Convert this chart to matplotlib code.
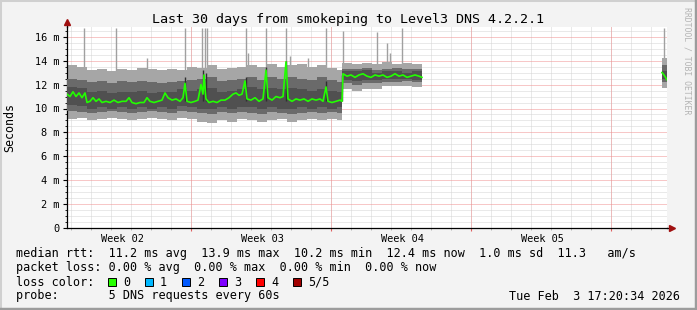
import numpy as np
import matplotlib.pyplot as plt
from matplotlib.patches import Rectangle
from matplotlib.lines import Line2D

W, H = 697, 310
MONO = 'DejaVu Sans Mono'

title = "Last 30 days from smokeping to Level3 DNS 4.2.2.1"

# median rtt (ms), x in days since the start of the 30 day window
median_days = [0.0, 0.15, 0.3, 0.45, 0.6, 0.75, 0.9, 1.0, 1.15, 1.3, 1.45, 1.6, 1.75, 1.95,
               2.15, 2.35, 2.55, 2.75, 2.95, 3.1, 3.25, 3.45, 3.65, 3.85, 4.0, 4.15, 4.35,
               4.55, 4.75, 4.9, 5.05, 5.25, 5.45, 5.65, 5.8, 5.9, 6.0, 6.2, 6.4, 6.55, 6.7,
               6.8, 6.85, 6.95, 7.1, 7.3, 7.5, 7.7, 7.9, 8.1, 8.3, 8.45, 8.6, 8.75, 8.9, 9.0,
               9.2, 9.4, 9.6, 9.8, 9.95, 10.05, 10.25, 10.45, 10.65, 10.8, 10.95, 11.05,
               11.25, 11.45, 11.65, 11.85, 12.05, 12.25, 12.45, 12.65, 12.8, 12.95, 13.05,
               13.25, 13.45, 13.65, 13.75, 13.8, 14.0, 14.2, 14.4, 14.6, 14.8, 15.0, 15.2,
               15.4, 15.6, 15.8, 16.0, 16.2, 16.4, 16.6, 16.8, 17.0, 17.2, 17.4, 17.6, 17.75,
               17.8, 29.75, 29.85, 30.0]
median_ms = [11.2, 11.0, 11.4, 11.0, 11.3, 10.9, 11.3, 10.5, 10.6, 10.9, 10.6, 10.8, 10.5, 10.6,
             10.5, 10.7, 10.5, 10.6, 10.6, 10.9, 10.5, 10.4, 10.5, 10.5, 10.9, 10.6, 10.5,
             10.6, 10.7, 11.3, 10.9, 10.7, 10.8, 10.6, 10.9, 12.1, 10.6, 10.5, 10.6, 10.7, 12.0,
             11.2, 12.8, 10.8, 10.5, 10.6, 10.5, 10.7, 10.7, 10.9, 11.2, 11.3, 11.1, 11.2, 12.3,
             10.8, 10.7, 10.9, 10.6, 10.8, 13.2, 10.9, 10.7, 11.0, 10.9, 11.0, 13.9, 10.8,
             10.6, 10.8, 10.7, 10.8, 10.6, 10.8, 10.7, 10.8, 10.6, 11.8, 10.6,
             10.5, 10.6, 10.7, 10.6, 12.9, 12.7, 12.8, 12.6, 12.8, 12.9, 12.7, 12.6,
             12.8, 12.7, 12.8, 12.6, 12.7, 12.9, 12.7, 12.8, 12.6, 12.7, 12.8, 12.7, 12.6,
             np.nan, 13.0, 12.8, 12.4]

# smoke bands (ms), one value per bin starting at band_days
band_days = [0.0, 0.5, 1.0, 1.5, 2.0, 2.5, 3.0, 3.5, 4.0, 4.5, 5.0, 5.5, 6.0, 6.5, 7.0,
             7.5, 8.0, 8.5, 9.0, 9.5, 10.0, 10.5, 11.0, 11.5, 12.0, 12.5, 13.0, 13.5,
             13.75, 14.25, 14.75, 15.25, 15.75, 16.25, 16.75, 17.25, 17.75, 29.75]
light_hi = [13.6, 13.5, 13.2, 13.3, 13.1, 13.3, 13.2, 13.4, 13.3, 13.2, 13.3, 13.2, 13.5, 13.4,
            13.6, 13.3, 13.4, 13.5, 13.6, 13.5, 13.7, 13.5, 13.6, 13.7, 13.5, 13.6, 13.4, 13.2,
            13.8, 13.7, 13.8, 13.7, 13.9, 13.7, 13.8, 13.7, np.nan, 14.2]
light_lo = [9.1, 9.2, 9.0, 9.1, 9.2, 9.1, 9.0, 9.1, 9.2, 9.1, 9.0, 9.2, 9.1, 8.9, 8.8,
            9.0, 8.9, 9.1, 9.0, 8.9, 9.0, 9.1, 8.9, 9.0, 9.1, 9.0, 9.1, 9.0,
            11.6, 11.5, 11.6, 11.6, 11.9, 11.9, 11.9, 11.8, np.nan, 11.7]
mid_hi = [12.5, 12.4, 12.2, 12.3, 12.1, 12.3, 12.2, 12.3, 12.2, 12.1, 12.2, 12.3, 12.4, 12.5,
          12.6, 12.3, 12.4, 12.5, 12.6, 12.4, 12.6, 12.5, 12.6, 12.5, 12.4, 12.6, 12.4, 12.2,
          13.3, 13.3, 13.4, 13.2, 13.3, 13.4, 13.3, 13.3, np.nan, 13.6]
mid_lo = [9.8, 9.7, 9.6, 9.7, 9.8, 9.7, 9.6, 9.7, 9.8, 9.7, 9.6, 9.8, 9.7, 9.6, 9.5,
          9.7, 9.6, 9.7, 9.6, 9.5, 9.7, 9.6, 9.5, 9.6, 9.7, 9.6, 9.7, 9.6,
          12.1, 12.0, 12.1, 12.1, 12.2, 12.2, 12.3, 12.2, np.nan, 12.2]
dark_hi = [11.8, 11.7, 11.4, 11.5, 11.3, 11.4, 11.4, 11.5, 11.3, 11.4, 11.4, 11.6, 11.5, 11.6,
           11.7, 11.4, 11.5, 11.6, 11.8, 11.6, 11.7, 11.6, 11.7, 11.6, 11.5, 11.6, 11.5, 11.4,
           13.1, 13.1, 13.2, 13.0, 13.1, 13.1, 13.0, 13.1, np.nan, 13.1]
dark_lo = [10.3, 10.2, 10.0, 10.1, 10.0, 10.1, 10.0, 10.1, 10.0, 10.1, 10.0, 10.2, 10.1, 10.0,
           10.0, 10.1, 10.0, 10.1, 10.1, 10.0, 10.1, 10.0, 10.0, 10.1, 10.0, 10.1, 10.0, 10.1,
           12.4, 12.3, 12.4, 12.4, 12.5, 12.5, 12.5, 12.4, np.nan, 12.5]

# single slow probes sticking out of the smoke
spike_days = [0.85, 2.45, 4.0, 5.9, 6.75, 6.9, 7.0, 8.95, 9.05, 9.95, 10.95, 11.15, 12.05,
              12.95, 13.8, 15.5, 16.0, 16.15, 16.75, 29.85]
spike_tops = [16.7, 16.7, 14.2, 16.7, 16.7, 16.7, 16.7, 16.7, 14.6, 16.7, 16.7, 14.4, 14.2,
              16.7, 16.5, 16.4, 15.5, 14.6, 16.7, 16.7]
dark_spike_days = [5.9, 6.8, 6.95, 8.95, 9.95, 10.95, 12.95, 13.77]
dark_spike_tops = [12.6, 13.2, 13.0, 12.6, 13.5, 14.0, 12.3, 12.8]

day_lines = [0.2 + d for d in range(30)]
week_lines = [6.2, 13.2, 20.2, 27.2]
week_mids = [2.75, 9.75, 16.75, 23.75]
week_labels = ['Week 02', 'Week 03', 'Week 04', 'Week 05']
y_ticks = [0, 2, 4, 6, 8, 10, 12, 14, 16]
y_labels = ['0', '2 m', '4 m', '6 m', '8 m', '10 m', '12 m', '14 m', '16 m']

loss_labels = ['0', '1', '2', '3', '4', '5/5']
loss_colors = ['#26ff00', '#00b8ff', '#0059ff', '#7e00ff', '#ff0000', '#a10000']

stat_lines = [
    "median rtt:  11.2 ms avg  13.9 ms max  10.2 ms min  12.4 ms now  1.0 ms sd  11.3   am/s",
    "packet loss: 0.00 % avg  0.00 % max  0.00 % min  0.00 % now",
    "loss color:",
    "probe:       5 DNS requests every 60s",
]
stamp = "Tue Feb  3 17:20:34 2026"


def fx(px):
    return px / W


def fy(py):
    return 1 - py / H


def steps(days, vals, end):
    x = np.repeat(list(days) + [end], 2)[1:-1]
    y = np.repeat(np.asarray(vals, dtype=float), 2)
    return x, y


fig = plt.figure(figsize=(W / 100, H / 100), dpi=100, facecolor='#f3f3f3')

top_px, zero_px, ppm = 27.3, 228.3, 11.98
ax = fig.add_axes([fx(67), fy(zero_px), fx(600), (zero_px - top_px) / H])
ax.set_facecolor('white')
ax.set_xlim(0, 30)
ax.set_ylim(0, (zero_px - top_px) / ppm)

# grid
dot = (0, (1, 1))
for v in np.arange(0.5, 16.8, 0.5):
    if v % 2:
        ax.axhline(v, color='#d4d4d4', lw=0.72, ls=dot, zorder=0.5)
for d in day_lines:
    ax.axvline(d, color='#d4d4d4', lw=0.72, ls=dot, zorder=0.5)
for v in y_ticks[1:]:
    ax.axhline(v, color='#f09090', lw=0.72, ls=dot, zorder=0.6)
for d in week_lines:
    ax.axvline(d, color='#f09090', lw=0.72, ls=dot, zorder=0.6)

# smoke
x, lo = steps(band_days, light_lo, 30.0)
_, hi = steps(band_days, light_hi, 30.0)
ax.fill_between(x, lo, hi, color='#a6a6a6', lw=0, zorder=2)
ax.vlines(spike_days, 12.0, spike_tops, color='#a0a0a0', lw=1.0, zorder=1.8)
_, lo = steps(band_days, mid_lo, 30.0)
_, hi = steps(band_days, mid_hi, 30.0)
ax.fill_between(x, lo, hi, color='#6a6a6a', lw=0, zorder=3)
_, lo = steps(band_days, dark_lo, 30.0)
_, hi = steps(band_days, dark_hi, 30.0)
ax.fill_between(x, lo, hi, color='#505050', lw=0, zorder=3.5)
ax.vlines(dark_spike_days, 10.6, dark_spike_tops, color='#303030', lw=1.0, zorder=3.8)

ax.plot(median_days, median_ms, color='#22ff00', lw=1.2, zorder=4)

# axes
for s in ['top', 'right']:
    ax.spines[s].set_visible(False)
for s in ['left', 'bottom']:
    ax.spines[s].set_color('black')
    ax.spines[s].set_linewidth(0.9)
ax.plot([0, 0], [1, 1.02], transform=ax.transAxes, color='black', lw=0.9, clip_on=False)
ax.plot([1, 1.008], [0, 0], transform=ax.transAxes, color='black', lw=0.9, clip_on=False)
ax.plot([0], [1.025], marker='^', ms=5, color='#a01010', transform=ax.transAxes, clip_on=False)
ax.plot([1.009], [0], marker='>', ms=5, color='#a01010', transform=ax.transAxes, clip_on=False)

ax.set_yticks(y_ticks, y_labels)
ax.set_yticks(np.arange(0, 16.8, 0.5), minor=True)
ax.tick_params(axis='y', which='major', length=3, width=0.8, pad=2.5,
               labelsize=7.4, labelfontfamily=MONO)
ax.tick_params(axis='y', which='minor', length=1.5, width=0.6)
ax.set_xticks(week_lines)
ax.set_xticks(day_lines, minor=True)
ax.tick_params(axis='x', which='major', length=2, width=0.8, color='#e06060', labelbottom=False)
ax.tick_params(axis='x', which='minor', length=1.5, width=0.6, color='#aaaaaa')
for d, lab in zip(week_mids, week_labels):
    ax.text(d, -0.03, lab, transform=ax.get_xaxis_transform(), ha='center', va='top',
            family=MONO, fontsize=7.4)

# titles
fig.text(fx(347.5), fy(19), title, ha='center', va='center', family=MONO, fontsize=9.6)
fig.text(fx(10), fy(128), 'Seconds', rotation=90, ha='center', va='center',
         family=MONO, fontsize=8.4)
fig.text(fx(687), fy(61), 'RRDTOOL / TOBI OETIKER', rotation=270, ha='center', va='center',
         family=MONO, fontsize=5.9, color='#b4b4b4')

# legend / stats
for i, line in enumerate(stat_lines):
    fig.text(fx(16), fy(254 + 14 * i), line, ha='left', va='center', family=MONO, fontsize=8.5)
fig.text(fx(680), fy(296), stamp, ha='right', va='center', family=MONO, fontsize=8.5)
for i, (lab, col) in enumerate(zip(loss_labels, loss_colors)):
    x0 = 108 + 37 * i
    fig.add_artist(Rectangle((fx(x0), fy(285.5)), fx(7.5), 7.5 / H, facecolor=col,
                             edgecolor='black', lw=0.7, transform=fig.transFigure))
    fig.text(fx(x0 + 15), fy(282), lab, ha='left', va='center', family=MONO, fontsize=8.5)

# 3d frame
fig.add_artist(Line2D([0, 0, 1], [0, 1, 1], transform=fig.transFigure, color='#d0d0d0', lw=2.2))
fig.add_artist(Line2D([0, 1, 1], [0, 0, 1], transform=fig.transFigure, color='#9c9c9c', lw=3.2))

fig.savefig('out.png', dpi=100, facecolor=fig.get_facecolor())
